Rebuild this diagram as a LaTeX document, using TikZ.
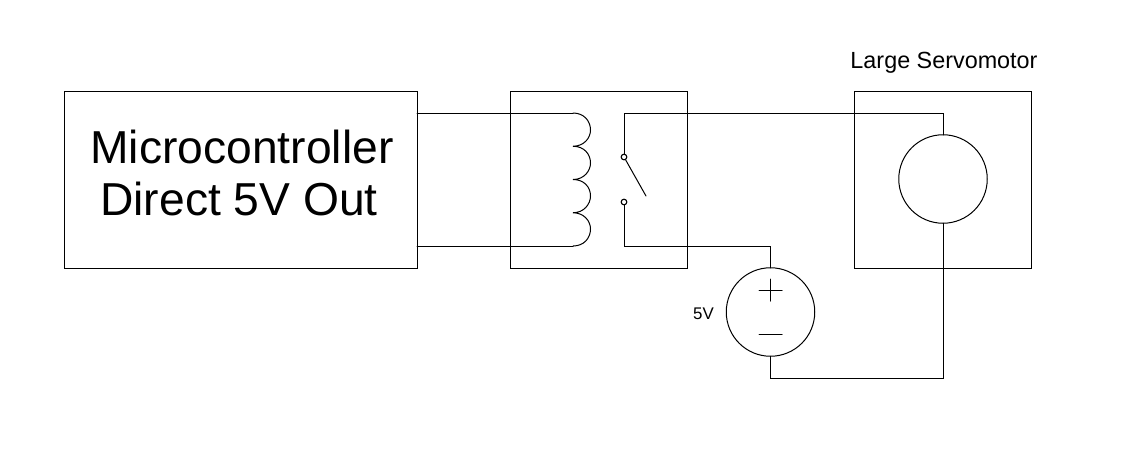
\documentclass[tikz,border=0pt]{standalone}
\usepackage{fontspec}
\setmainfont{Liberation Sans}
\tikzset{
  wire/.style={draw=black,line width=0.57pt,line cap=round,line join=miter},
  blockbox/.style={draw=black,line width=0.57pt,fill=none,minimum height=3.53cm,inner sep=0pt,outer sep=0pt},
  round/.style={draw=black,line width=0.57pt,circle,minimum size=1.77cm,inner sep=0pt,outer sep=0pt},
  contact/.style={draw=black,line width=0.57pt,circle,minimum size=0.11cm,inner sep=0pt,outer sep=0pt,fill=white},
  biglabel/.style={font=\fontsize{26.3}{29.6}\selectfont,align=center,inner sep=0pt},
  smalllabel/.style={font=\fontsize{13.3}{16}\selectfont,inner sep=0pt},
}
\begin{document}
\begin{tikzpicture}[x=0.02cm,y=-0.02cm]
\useasboundingbox (0,0) rectangle (1121,471);
\node[blockbox,minimum width=7.05cm] (micro) at (241,180) {};
\node[blockbox,minimum width=3.53cm] (relay) at (599,180) {};
\node[blockbox,minimum width=3.53cm] (servo) at (943,180) {};
\node[round] (motor) at (943,179) {};
\node[round] (source) at (770.5,312) {};
\node[biglabel] (mtext) at (242,173) {Microcontroller\\Direct 5V Out\kern3.4pt};
\node[smalllabel] (stext) at (944,63) {Large Servomotor};
\node[smalllabel,font=\fontsize{9.6}{12}\selectfont] (vtext) at (703.5,313.5) {5V};
\node[contact] (c1) at (624,157) {};
\node[contact] (c2) at (624,202) {};
\coordinate (m1) at (micro.east |- 0,113);
\coordinate (m2) at (micro.east |- 0,246);
\coordinate (k1) at (573,113);
\coordinate (k2) at (573,146.25);
\coordinate (k3) at (573,179.5);
\coordinate (k4) at (573,212.75);
\coordinate (k5) at (573,246);
\coordinate (blade) at (646,196);
\coordinate (top) at (c1 |- 0,113);
\coordinate (low) at (c2 |- 0,246);
\coordinate (ret) at (motor.south |- 0,378);
\draw[wire] (m1) -- (k1);
\draw[wire] (m2) -- (k5);
\draw[wire] (k1) .. controls (584,113) and (590.5,121) .. (590.5,130)
  .. controls (590.5,138) and (584,146.25) .. (k2)
  .. controls (584,146.25) and (590.5,154) .. (590.5,163)
  .. controls (590.5,171) and (584,179.5) .. (k3)
  .. controls (584,179.5) and (590.5,187) .. (590.5,196)
  .. controls (590.5,204) and (584,212.75) .. (k4)
  .. controls (584,212.75) and (590.5,221) .. (590.5,229)
  .. controls (590.5,238) and (584,246) .. (k5);
\draw[wire] (c1.north) -- (top) -| (motor.north);
\draw[wire] (c2.south) -- (low) -| (source.north);
\draw[wire] (c1) -- (blade);
\draw[wire] (source.south) |- (ret) -- (motor.south);
\coordinate (pa) at (770.5,279); \coordinate (pb) at (770.5,301);
\coordinate (pc) at (759,290); \coordinate (pd) at (782,290);
\coordinate (na) at (759,334); \coordinate (nb) at (782,334);
\draw[wire] (pa) -- (pb);
\draw[wire] (pc) -- (pd);
\draw[wire] (na) -- (nb);
\node[contact] at (c1) {};
\node[contact] at (c2) {};
\end{tikzpicture}
\end{document}
